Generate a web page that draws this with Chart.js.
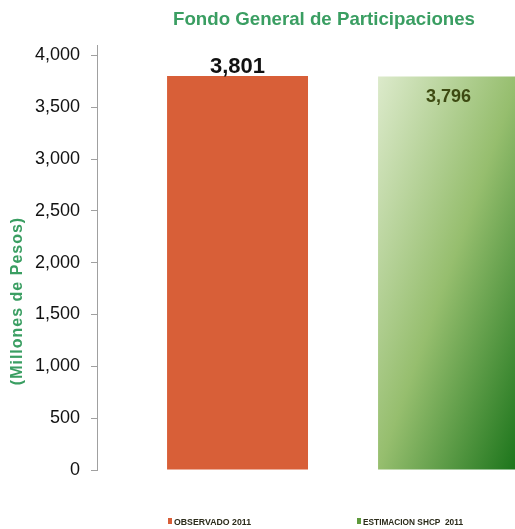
<!DOCTYPE html>
<html>
<head>
<meta charset="utf-8">
<script src="https://cdn.jsdelivr.net/npm/chart.js@4.4.1/dist/chart.umd.min.js"></script>
<style>
    html, body { margin: 0; padding: 0; background: #fff; }
    canvas { display: block; }
</style>
</head>
<body>
<canvas id="myChart" width="515" height="529"></canvas>
<script>
const series = ['OBSERVADO 2011', 'ESTIMACION SHCP  2011'];
const values = [3801, 3796];
const yTicks = [0, 500, 1000, 1500, 2000, 2500, 3000, 3500, 4000];
const chartTitle = 'Fondo General de Participaciones';
const yTitle = '(Millones de Pesos)';

const titleGreen = '#3a9e62';
const orange = '#d85f38';
const font = '"Liberation Sans", Arial, sans-serif';
const barPct = 0.668;

// diagonal light-to-dark green, like the office "shape" gradient
function greenFill(context) {
    const chart = context.chart;
    const xs = chart.scales.x, ys = chart.scales.y;
    if (!xs || !ys || context.dataIndex === undefined) return '#7fb05a';
    const step = xs.getPixelForValue(2) - xs.getPixelForValue(1);
    const w = step * barPct;
    const left = xs.getPixelForValue(context.datasetIndex + 1) - w / 2;
    const top = ys.getPixelForValue(values[context.datasetIndex]);
    const h = ys.getPixelForValue(0) - top;
    if (!isFinite(w) || !isFinite(h) || h <= 0) return '#7fb05a';
    const k = 2 * w * h / (h * h + w * w);
    const g = chart.ctx.createLinearGradient(left, top, left + h * k, top + w * k);
    g.addColorStop(0, '#dceacb');
    g.addColorStop(0.5, '#96be6e');
    g.addColorStop(1, '#197319');
    return g;
}

const extras = {
    id: 'extras',
    afterDraw(chart) {
        const ctx = chart.ctx;
        ctx.save();
        ctx.textAlign = 'center';
        ctx.textBaseline = 'alphabetic';

        ctx.fillStyle = titleGreen;
        ctx.font = 'bold 19px ' + font;
        ctx.fillText(chartTitle, 324, 25, 302);

        // data labels
        const b1 = chart.getDatasetMeta(0).data[0];
        ctx.fillStyle = '#111';
        ctx.font = 'bold 22px ' + font;
        ctx.fillText(values[0].toLocaleString('en-US'), b1.x, b1.y - 3);
        const b2 = chart.getDatasetMeta(1).data[0];
        ctx.fillStyle = '#3d4a12';
        ctx.font = 'bold 19px ' + font;
        ctx.fillText(values[1].toLocaleString('en-US'), b2.x, b2.y + 25, 45);

        // legend
        const legendX = [168, 357];
        const legendW = [77, 100];
        const legendCol = [orange, '#5e9a3c'];
        ctx.textAlign = 'left';
        ctx.font = 'bold 9px ' + font;
        series.forEach((s, i) => {
            ctx.fillStyle = legendCol[i];
            ctx.fillRect(legendX[i], 518, 4, 6);
            ctx.fillStyle = '#2b2b1a';
            ctx.fillText(s, legendX[i] + 6, 525, legendW[i]);
        });

        // y axis title
        ctx.translate(18, 301);
        ctx.rotate(-Math.PI / 2);
        ctx.textAlign = 'center';
        ctx.textBaseline = 'middle';
        ctx.fillStyle = titleGreen;
        ctx.font = 'bold 16px ' + font;
        ctx.letterSpacing = '1px';
        ctx.fillText(yTitle, 0, 0);
        ctx.restore();
    }
};

const ctx = document.getElementById('myChart').getContext('2d');
new Chart(ctx, {
    type: 'bar',
    data: {
        datasets: [{
            label: series[0],
            data: [{ x: 1, y: values[0] }],
            backgroundColor: orange
        }, {
            label: series[1],
            data: [{ x: 2, y: values[1] }],
            backgroundColor: greenFill
        }]
    },
    options: {
        responsive: false,
        animation: false,
        grouped: false,
        categoryPercentage: 1,
        barPercentage: barPct,
        layout: { padding: { top: 45, bottom: 59, left: 0, right: 0 } },
        scales: {
            x: {
                type: 'linear',
                display: false,
                offset: false,
                min: 0.334,
                max: 2.315,
                ticks: { stepSize: 1, includeBounds: false }
            },
            y: {
                min: 0,
                max: 4100,
                afterFit(scale) { scale.width = 97; },
                afterBuildTicks(scale) {
                    scale.ticks = yTicks.map(v => ({ value: v }));
                },
                grid: {
                    display: true,
                    drawOnChartArea: false,
                    drawTicks: true,
                    tickLength: 6,
                    color: '#a0a0a0'
                },
                border: { display: true, color: '#a0a0a0' },
                ticks: {
                    padding: 11,
                    color: '#111',
                    font: { family: font, size: 18 },
                    callback: v => v.toLocaleString('en-US')
                }
            }
        },
        plugins: {
            legend: { display: false },
            tooltip: { enabled: false }
        }
    },
    plugins: [extras]
});
</script>
</body>
</html>
